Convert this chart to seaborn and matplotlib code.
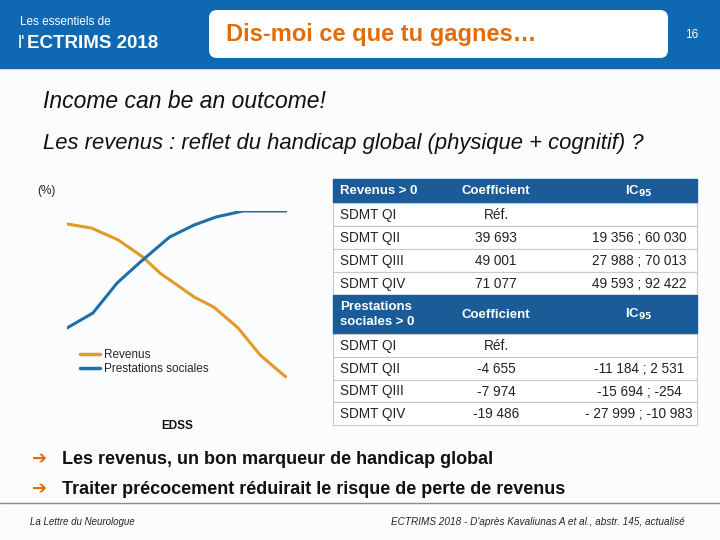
import seaborn as sns
import pandas as pd
import matplotlib.pyplot as plt
from matplotlib.patches import Rectangle, FancyBboxPatch

# Courbes (EDSS, %)
edss_revenus = [0, 1.0, 2.1, 3.1, 3.8, 5.2, 6.0, 7.0, 7.9, 9.0]
pct_revenus = [88, 86, 80, 71.5, 63.5, 51.5, 46.5, 36, 22.5, 11]
edss_prestations = [0, 1.06, 2.05, 3.0, 4.2, 5.2, 6.1, 7.2, 9.0]
pct_prestations = [36, 43.5, 58.5, 69, 81.5, 87.5, 91.5, 94.5, 94.5]

# Tableau
lignes_sdmt = ['SDMT QI', 'SDMT QII', 'SDMT QIII', 'SDMT QIV']
coef_revenus = ['Réf.', '39 693', '49 001', '71 077']
ic_revenus = ['', '19 356 ; 60 030', '27 988 ; 70 013', '49 593 ; 92 422']
coef_prestations = ['Réf.', '-4 655', '-7 974', '-19 486']
ic_prestations = ['', '-11 184 ; 2 531', '-15 694 ; -254', '- 27 999 ; -10 983']

bleu_entete = '#0f69b2'
bleu_tableau = '#1b5c98'
orange = '#e36c0a'
c_revenus = '#e39a2b'
c_prestations = '#1f6fa8'

sns.set_style('white')
plt.rcParams['font.family'] = ['Liberation Sans', 'DejaVu Sans']

fig = plt.figure(figsize=(7.2, 5.4), dpi=100)
fig.patch.set_facecolor('#fbfcfd')

# Calque de la diapositive (coordonnées en pixels)
bg = fig.add_axes([0, 0, 1, 1], zorder=0)
bg.set_xlim(0, 720)
bg.set_ylim(540, 0)
bg.axis('off')

bg.add_patch(Rectangle((0, 0), 720, 68, color=bleu_entete))
bg.add_patch(FancyBboxPatch((209, 10), 459, 48, boxstyle='round,pad=0,rounding_size=8',
                            fc='white', ec='none'))
bg.text(20, 22, 'Les essentiels de', color='white', fontsize=8.5, va='center')
bg.text(18, 43, "l'", color='white', fontsize=13, va='center')
bg.text(27, 43, 'ECTRIMS 2018', color='white', fontsize=13.5, fontweight='bold', va='center')
bg.text(226, 34, 'Dis-moi ce que tu gagnes…', color=orange, fontsize=17,
        fontweight='bold', va='center')
bg.text(692, 35, '16', color='white', fontsize=8.5, va='center', ha='center')

bg.text(43, 102, 'Income can be an outcome!', fontsize=16.5, style='italic', va='center', color='#111111')
bg.text(43, 143, 'Les revenus : reflet du handicap global (physique + cognitif) ?',
        fontsize=15.8, style='italic', va='center', color='#111111')

bg.text(37, 191, '(%)', fontsize=8.5, va='center', color='#222222')
bg.text(177, 426, 'EDSS', fontsize=8.5, fontweight='bold', va='center', ha='center', color='#111111')

# Tableau
x_cols = [333, 443, 552, 697]
x_coef = 496
x_ic = 639
def entete(y0, y1, titre):
    bg.add_patch(Rectangle((x_cols[0], y0), x_cols[-1] - x_cols[0], y1 - y0, color=bleu_tableau))
    yc = (y0 + y1) / 2
    bg.text(x_cols[0] + 7, yc, titre, color='white', fontsize=9.5, fontweight='bold',
            va='center', ha='left', multialignment='left', linespacing=1.3)
    bg.text(x_coef, yc, 'Coefficient', color='white', fontsize=9.5,
            fontweight='bold', va='center', ha='center')
    bg.text(x_ic, yc, r'IC$_{\mathbf{95}}$', color='white', fontsize=9.5,
            fontweight='bold', va='center', ha='center')

def bloc(y0, h, coefs, ics):
    for i, nom in enumerate(lignes_sdmt):
        ya = y0 + i * h
        bg.add_patch(Rectangle((x_cols[0], ya), x_cols[-1] - x_cols[0], h, fc='white',
                               ec='#c8c8c8', lw=0.8))
        yc = ya + h / 2 - 1
        bg.text(x_cols[0] + 7, yc, nom, fontsize=9.8, va='center_baseline', color='#222222')
        bg.text(x_coef, yc, coefs[i], fontsize=9.8, va='center_baseline',
                ha='center', color='#222222')
        bg.text(x_ic, yc, ics[i], fontsize=9.8, va='center_baseline',
                ha='center', color='#222222')

entete(179, 203, 'Revenus > 0')
bloc(203, 23, coef_revenus, ic_revenus)
entete(295, 334, 'Prestations\nsociales > 0')
bloc(334, 22.8, coef_prestations, ic_prestations)

# Conclusions
for y, txt in [(459, 'Les revenus, un bon marqueur de handicap global'),
               (489, 'Traiter précocement réduirait le risque de perte de revenus')]:
    bg.text(32, y, '➔', color=orange, fontsize=13, va='center', family=['DejaVu Sans'])
    bg.text(62, y, txt, fontsize=13, fontweight='bold', va='center', color='#111111')

bg.plot([0, 720], [503, 503], color='#7f8c99', lw=1)
bg.text(30, 522, 'La Lettre du Neurologue', fontsize=7, style='italic', va='center')
bg.text(685, 522, "ECTRIMS 2018 - D'après Kavaliunas A et al., abstr. 145, actualisé",
        fontsize=7.2, style='italic', va='center', ha='right')

# Graphique
ax = fig.add_axes([67 / 720, 162 / 540, 220 / 720, 167 / 540], zorder=1)
ax.patch.set_alpha(0)
df = pd.concat([
    pd.DataFrame({'EDSS': edss_revenus, 'pct': pct_revenus, 'serie': 'Revenus'}),
    pd.DataFrame({'EDSS': edss_prestations, 'pct': pct_prestations, 'serie': 'Prestations sociales'}),
])
sns.lineplot(data=df, x='EDSS', y='pct', hue='serie', sort=False, estimator=None,
             palette={'Revenus': c_revenus, 'Prestations sociales': c_prestations},
             linewidth=2.2, ax=ax)
ax.set_xlim(0, 9)
ax.set_ylim(11, 94.5)
ax.axis('off')
leg = ax.legend(loc='center left', bbox_to_anchor=(74 / 720, 1 - 362 / 540),
                bbox_transform=fig.transFigure, frameon=False, fontsize=8.5,
                handlelength=1.7, handletextpad=0.3, labelspacing=0.2, borderpad=0)
for line in leg.get_lines():
    line.set_linewidth(2.5)

plt.savefig('out.png', dpi=100)
plt.close()
